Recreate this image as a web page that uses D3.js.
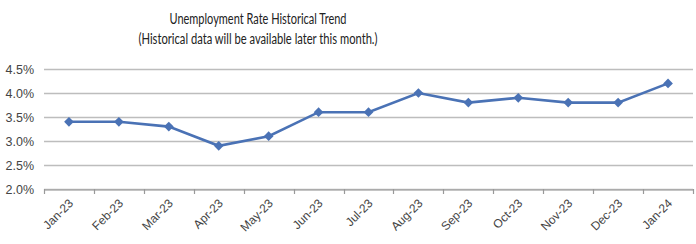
<!DOCTYPE html>
<html>
<head>
<meta charset="utf-8">
<script src="https://cdn.jsdelivr.net/npm/d3@7"></script>
<style>
  body { margin: 0; background: #fff; }
  svg { display: block; }
</style>
</head>
<body>
<svg id="chart" width="696" height="244"></svg>
<script>
const months = ["Jan-23", "Feb-23", "Mar-23", "Apr-23", "May-23", "Jun-23", "Jul-23",
    "Aug-23", "Sep-23", "Oct-23", "Nov-23", "Dec-23", "Jan-24"];
const rates = [3.4, 3.4, 3.3, 2.9, 3.1, 3.6, 3.6, 4.0, 3.8, 3.9, 3.8, 3.8, 4.2];
const yTicks = [2.0, 2.5, 3.0, 3.5, 4.0, 4.5];
const titleLines = ["Unemployment Rate Historical Trend",
    "(Historical data will be available later this month.)"];
const titleWidths = [177, 239];

const svg = d3.select("#chart");
const margin = { left: 44, right: 3, top: 69, bottom: 55 };
const width = 696, height = 244;

const x = d3.scaleBand()
    .domain(months)
    .range([margin.left, width - margin.right]);
const y = d3.scaleLinear()
    .domain([2.0, 4.5])
    .range([height - margin.bottom, margin.top]);

// title (narrow like Calibri)
svg.append("g")
    .selectAll("text")
    .data(titleLines)
    .enter()
    .append("text")
    .attr("x", 258)
    .attr("y", (d, i) => 24 + i * 20)
    .attr("text-anchor", "middle")
    .attr("textLength", (d, i) => titleWidths[i])
    .attr("lengthAdjust", "spacingAndGlyphs")
    .style("font-family", "Lato, 'Open Sans', sans-serif")
    .style("font-size", "14.5px")
    .style("fill", "#222")
    .text(d => d);

// gridlines
svg.append("g")
    .selectAll("line")
    .data(yTicks)
    .enter()
    .append("line")
    .attr("x1", margin.left)
    .attr("x2", width - margin.right)
    .attr("y1", d => Math.round(y(d)) + 0.5)
    .attr("y2", d => Math.round(y(d)) + 0.5)
    .style("stroke", "#bdbdbd")
    .style("stroke-width", 1.3);

// y labels
svg.append("g")
    .selectAll("text")
    .data(yTicks)
    .enter()
    .append("text")
    .attr("x", 34)
    .attr("y", d => y(d) + 4.5)
    .attr("text-anchor", "end")
    .style("font-family", "'Liberation Sans', Arial, sans-serif")
    .style("font-size", "12.5px")
    .style("fill", "#444")
    .text(d => d.toFixed(1) + "%");

// x axis
const xAxis = svg.append("g")
    .attr("transform", `translate(0,${Math.round(y(2.0)) + 0.5})`)
    .call(d3.axisBottom(x).tickSize(0).tickFormat(""));
xAxis.select(".domain").style("stroke", "#999").style("stroke-width", 1.2);

// tick marks at band boundaries
svg.append("g")
    .selectAll("line")
    .data(months.concat(["end"]))
    .enter()
    .append("line")
    .attr("x1", (d, i) => Math.round(margin.left + i * x.bandwidth()) + 0.5)
    .attr("x2", (d, i) => Math.round(margin.left + i * x.bandwidth()) + 0.5)
    .attr("y1", y(2.0))
    .attr("y2", y(2.0) + 5)
    .style("stroke", "#999")
    .style("stroke-width", 1.2);

// x labels rotated
svg.append("g")
    .selectAll("text")
    .data(months)
    .enter()
    .append("text")
    .attr("transform", d => `translate(${x(d) + x.bandwidth() / 2 + 5},${y(2.0) + 15}) rotate(-45)`)
    .attr("text-anchor", "end")
    .style("font-family", "'Liberation Sans', Arial, sans-serif")
    .style("font-size", "12px")
    .style("fill", "#444")
    .text(d => d);

// line
const line = d3.line()
    .x((d, i) => x(months[i]) + x.bandwidth() / 2)
    .y(d => y(d));

svg.append("path")
    .datum(rates)
    .attr("d", line)
    .style("fill", "none")
    .style("stroke", "#4a72b5")
    .style("stroke-width", 2.6);

// diamond markers
svg.append("g")
    .selectAll("path")
    .data(rates)
    .enter()
    .append("path")
    .attr("d", d3.symbol().type(d3.symbolDiamond2).size(60))
    .attr("transform", (d, i) => `translate(${x(months[i]) + x.bandwidth() / 2},${y(d)})`)
    .style("fill", "#4a72b5");
</script>
</body>
</html>
